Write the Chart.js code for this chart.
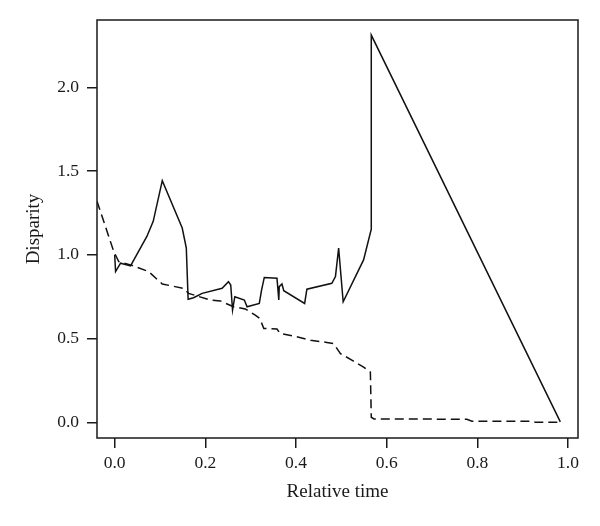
<!DOCTYPE html>
<html>
<head>
<meta charset="utf-8">
<script src="https://cdn.jsdelivr.net/npm/chart.js@4"></script>
<style>
  html, body { margin: 0; padding: 0; background: #fff; }
  #wrap { width: 600px; height: 526px; }
</style>
</head>
<body>
<div id="wrap"><canvas id="disparityChart" width="600" height="526"></canvas></div>
<script>
// Data
const solidX = [0.000, 0.002, 0.013, 0.035, 0.071, 0.085, 0.105, 0.149, 0.158, 0.162,
                0.174, 0.193, 0.237, 0.251, 0.256, 0.260, 0.265, 0.286, 0.292, 0.319,
                0.324, 0.330, 0.358, 0.362, 0.363, 0.369, 0.373, 0.419, 0.424, 0.479,
                0.487, 0.494, 0.504, 0.549, 0.566, 0.566, 0.983];
const solidY = [1.000, 0.900, 0.950, 0.934, 1.110, 1.200, 1.443, 1.160, 1.040, 0.735,
                0.744, 0.770, 0.800, 0.840, 0.820, 0.670, 0.750, 0.730, 0.690, 0.710,
                0.790, 0.865, 0.860, 0.730, 0.810, 0.826, 0.786, 0.710, 0.795, 0.830,
                0.870, 1.040, 0.720, 0.970, 1.154, 2.313, 0.002];

const dashX = [-0.039, -0.002, 0.009, 0.035, 0.075, 0.105, 0.152, 0.163, 0.211, 0.233,
               0.262, 0.288, 0.310, 0.320, 0.329, 0.358, 0.365, 0.395, 0.432, 0.468,
               0.483, 0.498, 0.524, 0.549, 0.564, 0.566, 0.572, 0.777, 0.788, 0.917,
               0.928, 0.983];
const dashY = [1.320, 1.020, 0.960, 0.940, 0.900, 0.826, 0.800, 0.770, 0.730, 0.725,
               0.690, 0.677, 0.640, 0.620, 0.560, 0.557, 0.530, 0.515, 0.490, 0.477,
               0.470, 0.410, 0.370, 0.330, 0.300, 0.030, 0.020, 0.018, 0.006, 0.006,
               0.000, 0.000];

const xTicks = [0, 0.2, 0.4, 0.6, 0.8, 1.0];
const yTicks = [0, 0.5, 1.0, 1.5, 2.0];

const toPoints = (xs, ys) => xs.map((x, i) => ({ x: x, y: ys[i] }));

Chart.defaults.font.family = "'Liberation Serif', 'DejaVu Serif', serif";
Chart.defaults.font.size = 17.5;
Chart.defaults.color = '#1a1a1a';

// box around the plot region
const boxPlugin = {
    id: 'box',
    afterDatasetsDraw(chart) {
        const a = chart.chartArea;
        const ctx = chart.ctx;
        ctx.save();
        ctx.strokeStyle = '#1a1a1a';
        ctx.lineWidth = 1.5;
        ctx.strokeRect(a.left, a.top, a.right - a.left, a.bottom - a.top);
        ctx.restore();
    }
};

new Chart(document.getElementById('disparityChart'), {
    type: 'scatter',
    data: {
        datasets: [{
            data: toPoints(solidX, solidY),
            showLine: true,
            borderColor: '#111',
            borderWidth: 1.5,
            pointRadius: 0,
            tension: 0
        }, {
            data: toPoints(dashX, dashY),
            showLine: true,
            borderColor: '#111',
            borderWidth: 1.5,
            borderDash: [9, 5],
            pointRadius: 0,
            tension: 0
        }]
    },
    options: {
        responsive: false,
        animation: false,
        layout: { padding: { top: 20, right: 22, left: 0, bottom: 0 } },
        plugins: {
            legend: { display: false },
            tooltip: { enabled: false }
        },
        scales: {
            x: {
                type: 'linear',
                min: -0.039,
                max: 1.022,
                afterFit(scale) { scale.height = 88; },
                afterBuildTicks(scale) { scale.ticks = xTicks.map(v => ({ value: v })); },
                grid: { display: true, drawOnChartArea: false, tickLength: 10, color: '#1a1a1a', lineWidth: 1.5 },
                border: { display: false },
                ticks: { padding: 5, callback: v => v.toFixed(1) },
                title: { display: true, text: 'Relative time', font: { size: 19 }, padding: { top: 8, bottom: 23 } }
            },
            y: {
                type: 'linear',
                min: -0.094,
                max: 2.403,
                afterFit(scale) { scale.width = 97; },
                afterBuildTicks(scale) { scale.ticks = yTicks.map(v => ({ value: v })); },
                grid: { display: true, drawOnChartArea: false, tickLength: 10, color: '#1a1a1a', lineWidth: 1.5 },
                border: { display: false },
                ticks: { padding: 8, callback: v => v.toFixed(1) },
                title: { display: true, text: 'Disparity', font: { size: 19 }, padding: { top: 23, bottom: 0 } }
            }
        }
    },
    plugins: [boxPlugin]
});
</script>
</body>
</html>
